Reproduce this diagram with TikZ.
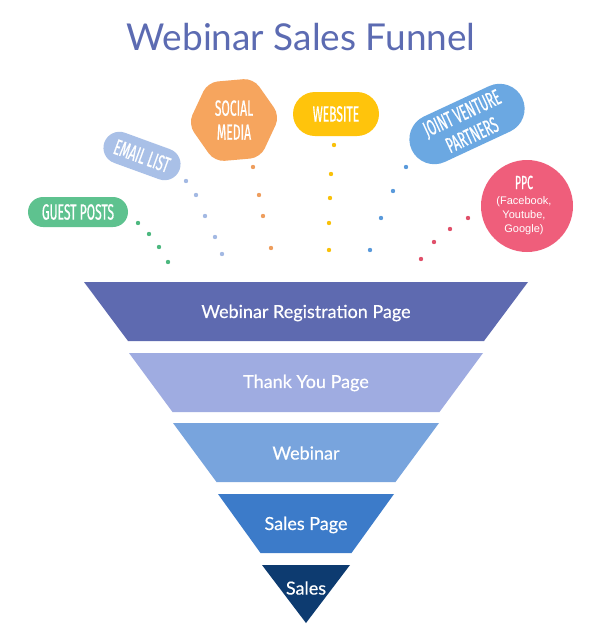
\documentclass[tikz,border=0pt]{standalone}
\usepackage{fontspec}
\setmainfont{Lato}
\newfontfamily\condfont[FakeStretch=0.55, FakeBold=0.6]{Fira Sans}
\newfontfamily\funfont[FakeBold=0.4]{Lato}
\newfontfamily\arialfont{Liberation Sans}
\usetikzlibrary{shapes.geometric,shapes.misc}
\definecolor{cTitle}{HTML}{5C6BB2}
\definecolor{cL1}{HTML}{5E6AB0}
\definecolor{cL2}{HTML}{9FACE1}
\definecolor{cL3}{HTML}{78A4DD}
\definecolor{cL4}{HTML}{3C7BC9}
\definecolor{cL5}{HTML}{0D3B70}
\definecolor{cGreen}{HTML}{5EC28F}
\definecolor{cEmail}{HTML}{A9C0E7}
\definecolor{cOrange}{HTML}{F6A55E}
\definecolor{cYellow}{HTML}{FFC40C}
\definecolor{cJV}{HTML}{6BA8E2}
\definecolor{cPPC}{HTML}{EF5E7B}
\definecolor{dGreen}{HTML}{4DB87F}
\definecolor{dEmail}{HTML}{A3B9E3}
\definecolor{dOrange}{HTML}{EE9E5E}
\definecolor{dYellow}{HTML}{F9C10A}
\definecolor{dJV}{HTML}{5A9ADB}
\definecolor{dRed}{HTML}{E0506A}
\begin{document}
\begin{tikzpicture}[x=1pt,y=-1pt,
  tag/.style={text=white, font=\condfont\fontsize{22}{24}\selectfont, align=center, inner sep=0pt},
  pill/.style={tag, rounded rectangle},
  ftext/.style={text=white, font=\funfont\fontsize{18}{18}\selectfont, inner sep=0pt},
  dot/.style={radius=2.2pt}]
\useasboundingbox (0,0) rectangle (600,630);
\fill[white] (0,0) rectangle (600,630);

% title
\node[anchor=base, text=cTitle, font=\fontsize{37}{37}\selectfont, inner sep=0pt] (title) at (301,50) {Webinar Sales Funnel};

% funnel layers
\fill[cL1] (84,282) -- (528,282) -- (484,341) -- (128,341) -- cycle;
\fill[cL2] (129,353) -- (483,353) -- (439.5,412) -- (172.5,412) -- cycle;
\fill[cL3] (173,423) -- (439,423) -- (395.5,482) -- (216.5,482) -- cycle;
\fill[cL4] (218,494) -- (394,494) -- (351.5,553) -- (260.5,553) -- cycle;
\fill[cL5] (262,565) -- (350,565) -- (306,623) -- cycle;
\node[ftext] (f1) at (306,313) {Webinar Registration Page};
\node[ftext] (f2) at (306,383) {Thank You Page};
\node[ftext] (f3) at (306,453) {Webinar};
\node[ftext] (f4) at (306,525) {Sales Page};
\node[ftext] (f5) at (306,588) {Sales};

% sources
\node[pill, fill=cGreen, minimum width=100pt, minimum height=30pt] (guest) at (78,212) {GUEST POSTS};
\node[pill, fill=cEmail, minimum width=80pt, minimum height=32pt, rotate=-20] (email) at (142,156) {EMAIL LIST};
\node[tag, fill=cOrange, regular polygon, regular polygon sides=6, minimum size=92pt, rounded corners=10pt, shape border rotate=5] (social) at (234,120) {SOCIAL\\MEDIA};
\node[pill, fill=cYellow, minimum width=86pt, minimum height=44pt] (web) at (336,114) {WEBSITE};
\node[pill, fill=cJV, minimum width=122pt, minimum height=50pt, rotate=25] (jv) at (467,124) {JOINT VENTURE\\PARTNERS};
\node[circle, fill=cPPC, minimum size=92pt, inner sep=0pt] (ppc) at (527,206) {};
\node[text=white, align=center, inner sep=0pt, font=\arialfont\fontsize{11}{14}\selectfont] (ppctext) at (524,205)
  {{\condfont\fontsize{19}{19}\selectfont PPC}\\[1pt]
   (Facebook,\\ Youtube,\\ Google)};

% dotted trails
\foreach \p in {(138,223),(149,234),(159,247),(168,262)} \fill[dGreen] \p circle[dot];
\foreach \p in {(186,181),(196,195),(205,216),(215,237),(222,254)} \fill[dEmail] \p circle[dot];
\foreach \p in {(253,167),(259,195),(263,216),(271,248)} \fill[dOrange] \p circle[dot];
\foreach \p in {(334,145),(331,174),(330,198),(329,223),(329,250)} \fill[dYellow] \p circle[dot];
\foreach \p in {(406,167),(393,191),(381,218),(370,250)} \fill[dJV] \p circle[dot];
\foreach \p in {(468,218),(450,229),(434,242),(421,259)} \fill[dRed] \p circle[dot];
\end{tikzpicture}
\end{document}
